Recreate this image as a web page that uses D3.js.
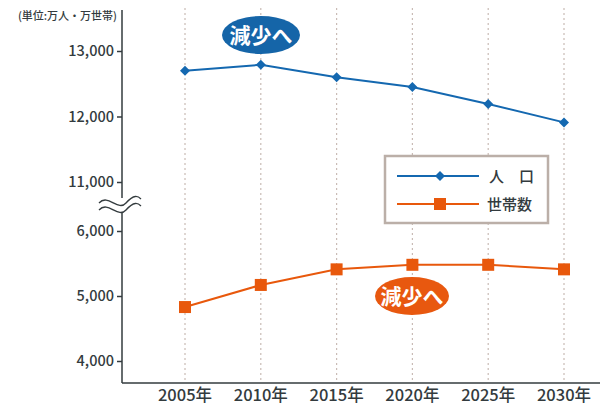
<!DOCTYPE html>
<html><head><meta charset="utf-8">
<script src="https://cdn.jsdelivr.net/npm/d3@7"></script>
<style>body{margin:0;background:#fff;} text{font-family:"Noto Sans CJK JP","Noto Sans",sans-serif;font-weight:500;}</style>
</head><body><svg id="c" width="602" height="405"></svg>
<script>
const years = [2005, 2010, 2015, 2020, 2025, 2030];
const yearLabels = ["2005年","2010年","2015年","2020年","2025年","2030年"];
const population = [12700, 12790, 12600, 12450, 12190, 11910];
const households = [4830, 5170, 5410, 5480, 5480, 5410];
const upperTicks = [11000, 12000, 13000];
const lowerTicks = [4000, 5000, 6000];
const seriesNames = ["人　口", "世帯数"];
const unitLabel = "(単位:万人・万世帯)";
const noteLabel = "減少へ";

const svg = d3.select("#c");
const textCol = "#333b3e";
const blue = "#1468b0", orange = "#e8580c";
const axisX = 122, axisBottom = 383;

const x = d3.scaleLinear().domain([2005, 2030]).range([185, 564]);
const yU = d3.scaleLinear().domain([11000, 13000]).range([182, 51]);
const yL = d3.scaleLinear().domain([4000, 6000]).range([361, 231]);

// gridlines
svg.append("g").selectAll("line").data(years).join("line")
  .attr("x1", d => x(d)).attr("x2", d => x(d)).attr("y1", 8).attr("y2", axisBottom)
  .attr("stroke", "#c9bbb5").attr("stroke-width", 1.2).attr("stroke-dasharray", "2,3");

// axes
const axisG = svg.append("g").attr("stroke", "#333b3e").attr("stroke-width", 1.5);
axisG.append("line").attr("x1", axisX).attr("x2", axisX).attr("y1", 10).attr("y2", axisBottom);
axisG.append("line").attr("x1", axisX).attr("x2", 600).attr("y1", axisBottom).attr("y2", axisBottom);

function yAxis(scale, ticks) {
  const g = svg.append("g").attr("transform", `translate(${axisX},0)`);
  g.call(d3.axisLeft(scale).tickValues(ticks).tickSize(5).tickPadding(3).tickFormat(d3.format(",")));
  g.select(".domain").remove();
  g.selectAll(".tick line").attr("stroke", textCol).attr("stroke-width", 1.5);
  g.selectAll(".tick text").attr("fill", textCol).style("font-size", "14.5px")
    .style("font-family", "'Noto Sans CJK JP','Noto Sans',sans-serif").style("font-weight", "500");
}
yAxis(yU, upperTicks);
yAxis(yL, lowerTicks);

// break mark
const brk = svg.append("g").attr("fill", "none").attr("stroke", textCol).attr("stroke-width", 1.3);
brk.append("rect").attr("x", 98).attr("y", 198).attr("width", 44).attr("height", 14).attr("fill", "#fff").attr("stroke", "none");
[0, 7].forEach(o => {
  brk.append("path").attr("d", `M99,${205 + o - 2} C108,${193 + o} 118,${212 + o} 126,${203 + o} S138,${196 + o} 141,${199 + o}`);
});

// x axis labels
svg.append("g").selectAll("text").data(years).join("text")
  .attr("x", d => x(d)).attr("y", 400.5).attr("text-anchor", "middle")
  .attr("fill", textCol).style("font-size", "16.5px").text((d, i) => yearLabels[i]);

// unit label
svg.append("text").attr("x", 117).attr("y", 20).attr("text-anchor", "end")
  .attr("fill", textCol).style("font-size", "11px").text(unitLabel);

// lines
const lineU = d3.line().x((d, i) => x(years[i])).y(d => yU(d));
const lineL = d3.line().x((d, i) => x(years[i])).y(d => yL(d));
svg.append("path").datum(population).attr("d", lineU).attr("fill", "none").attr("stroke", blue).attr("stroke-width", 2);
svg.append("path").datum(households).attr("d", lineL).attr("fill", "none").attr("stroke", orange).attr("stroke-width", 2);

svg.append("g").selectAll("path").data(population).join("path")
  .attr("d", d3.symbol().type(d3.symbolSquare).size(50)).attr("transform", (d, i) => `translate(${x(years[i])},${yU(d)}) rotate(45)`)
  .attr("fill", blue);
svg.append("g").selectAll("rect").data(households).join("rect")
  .attr("x", (d, i) => x(years[i]) - 6).attr("y", d => yL(d) - 6).attr("width", 12).attr("height", 12)
  .attr("fill", orange);

// blobs
function blob(cx, cy, rx, ry, col) {
  svg.append("ellipse").attr("cx", cx).attr("cy", cy).attr("rx", rx).attr("ry", ry).attr("fill", col);
  svg.append("text").attr("x", cx).attr("y", cy + 7.5).attr("text-anchor", "middle").attr("fill", "#fff")
    .style("font-size", "21px").style("font-weight", "bold").text(noteLabel);
}
blob(261, 35, 39, 19, "#1565a8");
blob(412, 296, 37, 19, "#e8580f");

// legend
const lg = svg.append("g");
lg.append("rect").attr("x", 385).attr("y", 156).attr("width", 163).attr("height", 67)
  .attr("fill", "#fff").attr("stroke", "#bbafa8").attr("stroke-width", 2.5);
lg.append("line").attr("x1", 397).attr("x2", 479).attr("y1", 176).attr("y2", 176).attr("stroke", blue).attr("stroke-width", 2);
lg.append("path").attr("d", d3.symbol().type(d3.symbolSquare).size(50)).attr("transform", "translate(440,176) rotate(45)").attr("fill", blue);
lg.append("line").attr("x1", 397).attr("x2", 479).attr("y1", 204).attr("y2", 204).attr("stroke", orange).attr("stroke-width", 2);
lg.append("rect").attr("x", 434).attr("y", 198).attr("width", 12).attr("height", 12).attr("fill", orange);
lg.append("text").attr("x", 489).attr("y", 182).attr("fill", textCol).style("font-size", "15px").text(seriesNames[0]);
lg.append("text").attr("x", 487).attr("y", 210).attr("fill", textCol).style("font-size", "15px").text(seriesNames[1]);
</script></body></html>
